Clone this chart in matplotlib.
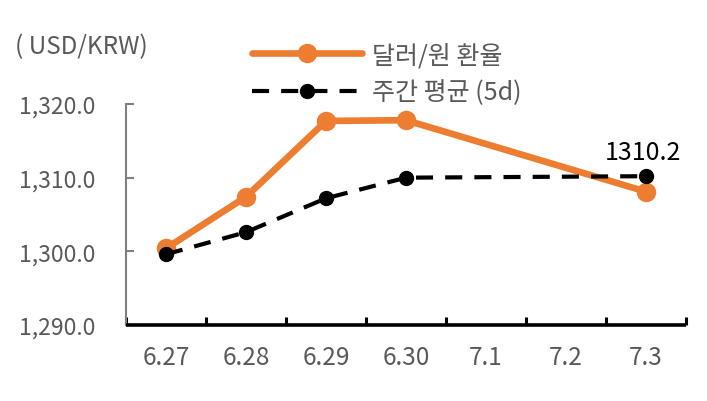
import matplotlib.pyplot as plt

plt.rcParams['font.family'] = ['Noto Sans CJK KR', 'DejaVu Sans']
plt.rcParams['font.weight'] = 'light'

# 데이터 (7.1, 7.2 는 주말이라 값 없음)
dates = ["6.27", "6.28", "6.29", "6.30", "7.1", "7.2", "7.3"]
usdkrw = [1300.4, 1307.4, 1317.7, 1317.8, None, None, 1308.1]
avg5d = [1299.6, 1302.6, 1307.2, 1310.0, None, None, 1310.2]
y_ticks = [1290, 1300, 1310, 1320]

orange = "#ED7D31"
gray_txt = "#595959"

fig = plt.figure(figsize=(7.07, 4.02), dpi=100)
ax = fig.add_axes([126 / 707, 1 - 326 / 402, 560 / 707, 221 / 402])

x1 = [i for i, v in enumerate(usdkrw) if v is not None]
y1 = [v for v in usdkrw if v is not None]
x2 = [i for i, v in enumerate(avg5d) if v is not None]
y2 = [v for v in avg5d if v is not None]

ax.plot(x1, y1, color=orange, lw=4.8, marker="o", ms=13,
        solid_capstyle="round", label="달러/원 환율", zorder=3)
ax.plot(x2, y2, color="black", lw=3, marker="o", ms=10,
        dashes=(4.1, 2.9), label="주간 평균 (5d)", zorder=4)

# 마지막 값 표시
ax.annotate(f"{avg5d[-1]}", xy=(x2[-1], y2[-1]), xytext=(-2, 8),
            textcoords="offset points", ha="center", va="bottom",
            fontsize=18, color="black")

ax.set_xlim(-0.5, len(dates) - 0.5)
ax.set_ylim(1290, 1320)
ax.set_xticks(range(len(dates)))
ax.set_xticklabels(dates)
ax.set_xticks([i - 0.5 for i in range(len(dates) + 1)], minor=True)
ax.set_yticks(y_ticks)
ax.set_yticklabels([f"{v:,.1f}" for v in y_ticks])

ax.tick_params(axis="x", which="major", length=0, pad=14, labelsize=17.5,
               labelcolor=gray_txt)
ax.tick_params(axis="x", which="minor", direction="in", length=6, width=2.2,
               color="black")
ax.tick_params(axis="y", direction="in", length=6, width=1.5, color="#7f7f7f",
               pad=22, labelsize=16.5, labelcolor=gray_txt)

for s in ["top", "right"]:
    ax.spines[s].set_visible(False)
ax.spines["left"].set_color("#7f7f7f")
ax.spines["left"].set_linewidth(1.5)
ax.spines["bottom"].set_color("black")
ax.spines["bottom"].set_linewidth(2.6)
ax.spines["bottom"].set_capstyle("butt")

fig.text(15 / 707, 1 - 47 / 402, "( USD/KRW)", fontsize=17.5, color=gray_txt,
         va="center", ha="left")

ax.legend(loc="upper left", bbox_to_anchor=(252 / 707, 1 - 43 / 402),
          bbox_transform=fig.transFigure, frameon=False, fontsize=18,
          handlelength=4.4, handletextpad=0.4, labelspacing=0.45,
          borderpad=0, borderaxespad=0, labelcolor=gray_txt)

fig.savefig("out.png", dpi=100)
